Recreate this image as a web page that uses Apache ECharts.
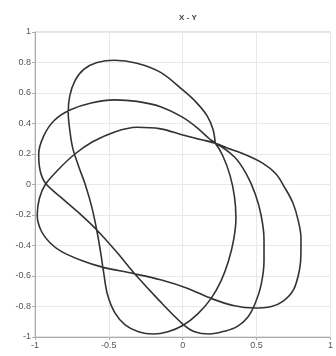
<!DOCTYPE html>
<html>
<head>
<meta charset="utf-8">
<script src="https://cdn.jsdelivr.net/npm/echarts@6/dist/echarts.min.js"></script>
<style>
  html, body { margin: 0; padding: 0; background: #fff; }
  #chart { width: 336px; height: 356px; }
</style>
</head>
<body>
<div id="chart"></div>
<script>
// Trajectory in the X-Y plane, traced as three successive loops
// that each leave from and return to the point near (0.22, 0.27).
const loopA = [
  [0.22, 0.27], [0.205, 0.36], [0.165, 0.45], [0.09, 0.54], [0.0, 0.62],
  [-0.15, 0.735], [-0.31, 0.795], [-0.46, 0.815], [-0.58, 0.80], [-0.67, 0.755],
  [-0.73, 0.68], [-0.765, 0.58], [-0.775, 0.47], [-0.765, 0.36], [-0.745, 0.24],
  [-0.705, 0.12], [-0.66, 0.0], [-0.615, -0.15], [-0.58, -0.31], [-0.555, -0.45],
  [-0.535, -0.58], [-0.51, -0.72], [-0.46, -0.84], [-0.39, -0.92], [-0.30, -0.965],
  [-0.2, -0.98], [-0.1, -0.965], [0.0, -0.925], [0.1, -0.85], [0.19, -0.75],
  [0.26, -0.63], [0.31, -0.50], [0.345, -0.36], [0.36, -0.22], [0.35, -0.08],
  [0.32, 0.06], [0.27, 0.19], [0.22, 0.27]
];
const loopB = [
  [0.22, 0.27], [0.18, 0.30], [0.1, 0.37], [0.0, 0.44], [-0.15, 0.51],
  [-0.31, 0.545], [-0.46, 0.555], [-0.62, 0.535], [-0.76, 0.49], [-0.87, 0.42],
  [-0.94, 0.32], [-0.975, 0.2], [-0.965, 0.09], [-0.93, 0.01], [-0.83, -0.08],
  [-0.71, -0.18], [-0.58, -0.30], [-0.45, -0.44], [-0.33, -0.58], [-0.16, -0.76],
  [0.0, -0.915], [0.08, -0.965], [0.18, -0.98], [0.29, -0.96], [0.37, -0.93],
  [0.44, -0.87], [0.49, -0.78], [0.53, -0.66], [0.55, -0.50], [0.55, -0.36],
  [0.53, -0.20], [0.49, -0.06], [0.43, 0.07], [0.35, 0.18], [0.22, 0.27]
];
const loopC = [
  [0.22, 0.27], [0.12, 0.295], [0.0, 0.325], [-0.15, 0.365], [-0.31, 0.375],
  [-0.46, 0.345], [-0.61, 0.28], [-0.73, 0.2], [-0.84, 0.1], [-0.93, 0.0],
  [-0.97, -0.09], [-0.985, -0.2], [-0.96, -0.30], [-0.90, -0.38], [-0.82, -0.44],
  [-0.68, -0.50], [-0.55, -0.54], [-0.33, -0.585], [-0.15, -0.625], [0.03, -0.68],
  [0.2, -0.75], [0.35, -0.795], [0.48, -0.81], [0.6, -0.80], [0.68, -0.765],
  [0.75, -0.69], [0.79, -0.56], [0.80, -0.45], [0.80, -0.35], [0.78, -0.23],
  [0.745, -0.12], [0.69, -0.02], [0.63, 0.07], [0.54, 0.14], [0.40, 0.205],
  [0.30, 0.24], [0.22, 0.27], [0.12, 0.295], [0.0, 0.325]
];

const xTicks = { min: -1, max: 1, step: 0.5 };
const yTicks = { min: -1, max: 1, step: 0.2 };

const path = loopA.concat(loopB.slice(1), loopC.slice(1));

const labelStyle = { color: '#555', fontSize: 9, fontFamily: 'Liberation Sans, Arial, sans-serif' };

const chart = echarts.init(document.getElementById('chart'), null, { renderer: 'canvas' });
chart.setOption({
  animation: false,
  backgroundColor: '#fff',
  title: {
    text: 'X - Y',
    left: 183,
    top: 9,
    textAlign: 'center',
    textStyle: { color: '#444', fontSize: 8, fontWeight: 'bold', fontFamily: 'Liberation Sans, Arial, sans-serif' }
  },
  grid: {
    left: 35, right: 0, top: 32, bottom: 19,
    show: true, borderColor: '#c8c8c8', borderWidth: 1, backgroundColor: 'transparent'
  },
  xAxis: {
    type: 'value',
    min: xTicks.min, max: xTicks.max, interval: xTicks.step,
    axisLine: { show: true, onZero: false, lineStyle: { color: '#aaa' } },
    axisTick: { show: true, length: 3, lineStyle: { color: '#aaa' } },
    axisLabel: Object.assign({ margin: 4 }, labelStyle),
    splitLine: { show: true, lineStyle: { color: '#e8e8e8' } }
  },
  yAxis: {
    type: 'value',
    min: yTicks.min, max: yTicks.max, interval: yTicks.step,
    axisLine: { show: true, onZero: false, lineStyle: { color: '#aaa' } },
    axisTick: { show: true, length: 3, lineStyle: { color: '#aaa' } },
    axisLabel: Object.assign({ margin: 4 }, labelStyle),
    splitLine: { show: true, lineStyle: { color: '#e8e8e8' } }
  },
  series: [{
    type: 'line',
    data: path,
    showSymbol: false,
    smooth: 0.35,
    lineStyle: { color: '#333', width: 1.6 },
    silent: true
  }]
});
</script>
</body>
</html>
